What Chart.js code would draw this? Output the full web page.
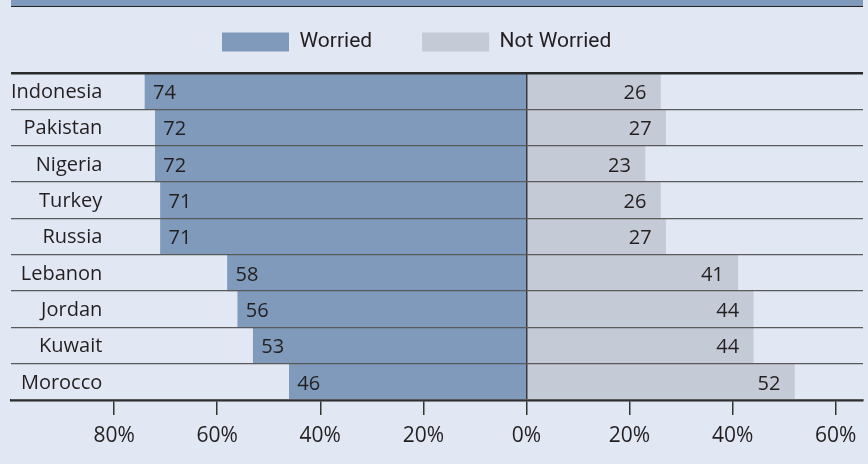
<!DOCTYPE html>
<html><head><meta charset="utf-8">
<script src="https://cdn.jsdelivr.net/npm/chart.js@4.4.1/dist/chart.umd.min.js"></script>
<style>
html,body{margin:0;padding:0;background:#e1e8f4;}
#wrap{position:relative;width:868px;height:464px;overflow:hidden;}
#band{position:absolute;left:11px;top:0;width:852px;height:6px;background:#7f9aba;border-bottom:1.5px solid #222;}
canvas{position:absolute;left:0;top:0;}
</style></head><body>
<div id="wrap"><canvas id="c" width="868" height="464"></canvas><div id="band"></div></div>
<script>
const categories = ['Indonesia','Pakistan','Nigeria','Turkey','Russia','Lebanon','Jordan','Kuwait','Morocco'];
const worried = [74,72,72,71,71,58,56,53,46];
const notWorried = [26,27,23,26,27,41,44,44,52];
const seriesNames = ['Worried','Not Worried'];
const tickValues = [-80,-60,-40,-20,0,20,40,60];

const INK = '#231f20';

const legendPlace = {
  id: 'legendPlace',
  beforeDraw(chart) {
    const lg = chart.legend;
    if (!lg) return;
    lg.left = 172;
    lg.top = -18.5;
  }
};

const valueLabels = {
  id: 'valueLabels',
  afterDatasetsDraw(chart) {
    const ctx = chart.ctx;
    const sources = [worried, notWorried];
    ctx.save();
    ctx.font = '20px "Open Sans"';
    ctx.fillStyle = INK;
    ctx.textBaseline = 'middle';
    chart.data.datasets.forEach((ds, di) => {
      const meta = chart.getDatasetMeta(di);
      meta.data.forEach((bar, i) => {
        const txt = String(sources[di][i]);
        if (di === 0) { ctx.textAlign = 'left'; ctx.fillText(txt, bar.x + 8, bar.y + 2); }
        else { ctx.textAlign = 'right'; ctx.fillText(txt, bar.x - 14, bar.y + 2); }
      });
    });
    ctx.restore();
  }
};

new Chart(document.getElementById('c'), {
  type: 'bar',
  data: {
    labels: categories,
    datasets: [
      { label: seriesNames[0], data: worried.map(v => -v), backgroundColor: '#7f9aba', borderWidth: 0, barPercentage: 1, categoryPercentage: 1 },
      { label: seriesNames[1], data: notWorried, backgroundColor: '#c5cbd6', borderWidth: 0, barPercentage: 1, categoryPercentage: 1 }
    ]
  },
  options: {
    indexAxis: 'y',
    responsive: false,
    animation: false,
    devicePixelRatio: 1,
    layout: { padding: { left: 11, right: 5, top: 0, bottom: 16 } },
    plugins: {
      tooltip: { enabled: false },
      legend: {
        position: 'top',
        align: 'start',
        maxHeight: 73,
        labels: { boxWidth: 67, boxHeight: 19, padding: 50, color: INK, font: { family: 'Roboto', size: 21 } }
      }
    },
    scales: {
      x: {
        stacked: true,
        min: -100,
        max: 65.3,
        afterBuildTicks: s => { s.ticks = tickValues.map(v => ({ value: v })); },
        afterFit: s => { s.height = 48; },
        border: { color: '#222', width: 2.5, z: 1 },
        grid: {
          z: 1,
          color: c => (c.tick && c.tick.value === 0) ? '#3a3a3a' : 'rgba(0,0,0,0)',
          lineWidth: 1.5,
          tickColor: '#333',
          tickWidth: 1.5,
          tickLength: 15
        },
        ticks: { padding: 8, color: INK, font: { family: 'Open Sans', size: 21 }, callback: v => Math.abs(v) + '%' }
      },
      y: {
        stacked: true,
        afterFit: s => { s.width = 0; },
        border: { display: false },
        grid: {
          z: 1,
          offset: true,
          drawTicks: false,
          color: c => c.index === 0 ? '#2a2a2a' : '#5a5a5a',
          lineWidth: c => c.index === 0 ? 2.5 : (c.index === categories.length ? 0 : 1.3)
        },
        ticks: { mirror: true, crossAlign: 'far', padding: 0, labelOffset: 1, color: INK, font: { family: 'Open Sans', size: 20 } }
      }
    }
  },
  plugins: [legendPlace, valueLabels]
});
</script>
</body></html>
